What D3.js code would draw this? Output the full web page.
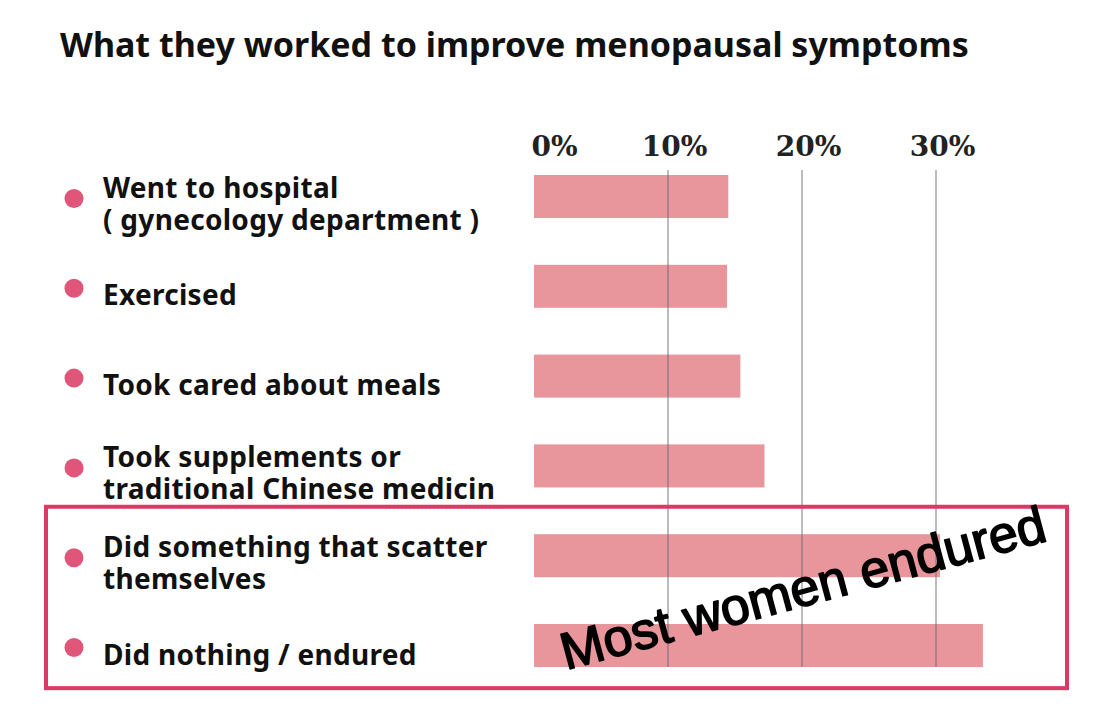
<!DOCTYPE html>
<html>
<head>
<meta charset="utf-8">
<script src="https://cdn.jsdelivr.net/npm/d3@7"></script>
<style>
  body { margin: 0; background: #fff; }
  svg { display: block; }
</style>
</head>
<body>
<svg width="1112" height="728"></svg>
<script>
const title = "What they worked to improve menopausal symptoms";
const categories = [
    ["Went to hospital", "( gynecology department )"],
    ["Exercised"],
    ["Took cared about meals"],
    ["Took supplements or", "traditional Chinese medicin"],
    ["Did something that scatter", "themselves"],
    ["Did nothing / endured"]
];
const shares = [14.5, 14.4, 15.4, 17.2, 30.3, 33.5];
const tickValues = [0, 10, 20, 30];
const tickLabels = ["0%", "10%", "20%", "30%"];
const highlighted = [4, 5];
const annotation = "Most women endured";

(function() {
    const svg = d3.select("svg");
    const pink = "#e8959b";
    const accent = "#dc3a66";

    const x = d3.scaleLinear().domain([0, 30]).range([534, 936]);
    const y = d3.scalePoint()
        .domain(d3.range(categories.length))
        .range([151.6, 690.4])
        .padding(0.5);
    const barH = 43;

    svg.append("text")
        .attr("x", 60)
        .attr("y", 57)
        .style("font", "bold 34px 'Noto Sans', sans-serif")
        .attr("fill", "#111")
        .text(title);

    // top axis, labels only
    const axis = svg.append("g")
        .attr("transform", "translate(0,156)")
        .call(d3.axisTop(x).tickValues(tickValues).tickSize(0).tickPadding(0)
            .tickFormat((d, i) => tickLabels[i]));
    axis.select(".domain").remove();
    axis.selectAll("text")
        .attr("dx", d => d === 0 ? 20 : 6)
        .style("font", "bold 28px 'DejaVu Serif', serif")
        .attr("fill", "#222");

    svg.append("g").selectAll("rect")
        .data(shares)
        .join("rect")
        .attr("x", x(0))
        .attr("y", (d, i) => y(i) - barH / 2)
        .attr("width", d => x(d) - x(0))
        .attr("height", barH)
        .attr("fill", pink);

    // gridlines sit on top of the bars
    const last = categories.length - 1;
    svg.append("g").selectAll("line")
        .data(tickValues.filter(d => d > 0))
        .join("line")
        .attr("x1", d => x(d)).attr("x2", d => x(d))
        .attr("y1", 170)
        .attr("y2", y(last) + barH / 2)
        .attr("stroke", "rgba(105,105,115,0.45)")
        .attr("stroke-width", 2);

    svg.append("g").selectAll("circle")
        .data(categories)
        .join("circle")
        .attr("cx", 74)
        .attr("cy", (d, i) => y(i) + 2)
        .attr("r", 9.5)
        .attr("fill", "#e0557a");

    const labels = svg.append("g").selectAll("text")
        .data(categories)
        .join("text")
        .style("font", "bold 28px 'Noto Sans', sans-serif")
        .style("letter-spacing", "0.3px")
        .attr("fill", "#111");
    labels.each(function(lines, i) {
        const t = d3.select(this);
        const y0 = lines.length > 1 ? y(i) + 1 : y(i) + 19;
        lines.forEach((s, j) => {
            t.append("tspan").attr("x", 103).attr("y", y0 + j * 32).text(s);
        });
    });

    // red spell-check squiggle under "medicin"
    const node = labels.filter((d, i) => i === 3).select("tspan:nth-child(2)").node();
    const str = categories[3][1];
    const k = str.lastIndexOf(" ") + 1;
    const sx = 103 + node.getSubStringLength(0, k);
    const ex = 103 + node.getComputedTextLength() + 6;
    const sy = y(3) + 1 + 32 + 8;
    let p = `M${sx},${sy}`;
    for (let xx = sx, up = true; xx < ex; xx += 2, up = !up) {
        p += `L${xx + 2},${sy + (up ? -1.5 : 1.5)}`;
    }
    svg.append("path").attr("d", p).attr("fill", "none")
        .attr("stroke", "#e8453c").attr("stroke-width", 1);

    // highlight box around the last two rows
    const step = y.step();
    const top = y(highlighted[0]) - step * 0.545;
    const bottom = y(highlighted[1]) + step * 0.475;
    svg.append("rect")
        .attr("x", 46).attr("y", top)
        .attr("width", 1021).attr("height", bottom - top)
        .attr("fill", "none")
        .attr("stroke", accent)
        .attr("stroke-width", 4);

    svg.append("text")
        .attr("transform", "translate(566,670) rotate(-15)")
        .style("font", "52px 'Liberation Sans', Arial, sans-serif")
        .attr("fill", "#000")
        .attr("stroke", "#000")
        .attr("stroke-width", 1.6)
        .attr("stroke-linejoin", "round")
        .text(annotation);
})();
</script>
</body>
</html>
